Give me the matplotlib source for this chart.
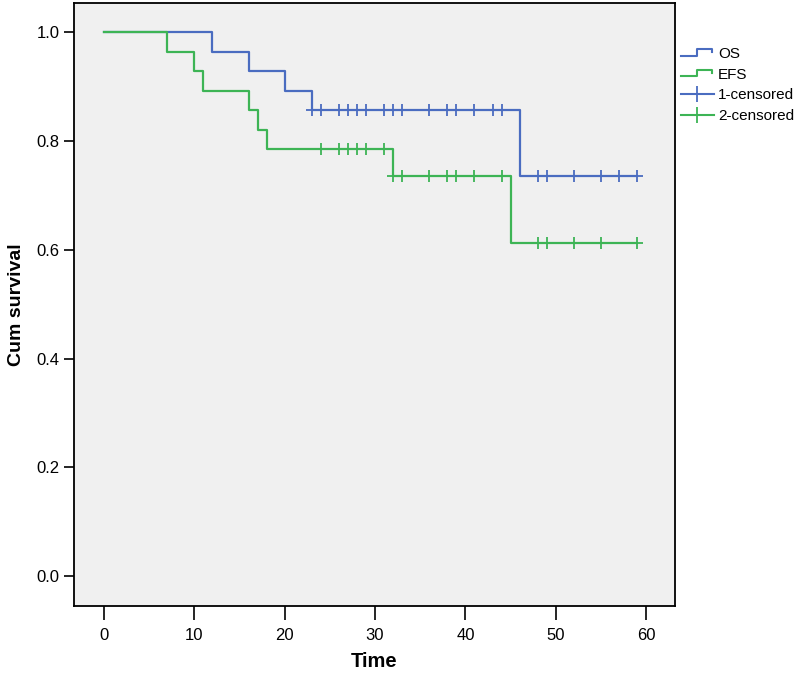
import matplotlib.pyplot as plt
from matplotlib.lines import Line2D
from matplotlib.legend_handler import HandlerBase

plt.rcParams['font.family'] = ['Liberation Sans', 'DejaVu Sans']

# Kaplan-Meier step data
os_times = [0, 12, 16, 20, 23, 46, 59]
os_surv = [1.0, 0.964, 0.929, 0.893, 0.857, 0.735, 0.735]
os_cens_t = [23, 24, 26, 27, 28, 29, 31, 32, 33, 36, 38, 39, 41, 43, 44,
             48, 49, 52, 55, 57, 59]
os_cens_s = [0.857] * 15 + [0.735] * 6

efs_times = [0, 7, 10, 11, 16, 17, 18, 32, 45, 59]
efs_surv = [1.0, 0.964, 0.929, 0.893, 0.857, 0.821, 0.786, 0.735, 0.612, 0.612]
efs_cens_t = [24, 26, 27, 28, 29, 31, 32, 33, 36, 38, 39, 41, 44,
              48, 49, 52, 55, 59]
efs_cens_s = [0.786] * 6 + [0.735] * 7 + [0.612] * 5

labels = ['OS', 'EFS', '1-censored', '2-censored']
blue = '#4a6cc0'
green = '#3db455'


class StepHandler(HandlerBase):
    # little step glyph like in the SPSS legend
    def create_artists(self, legend, orig, xd, yd, w, h, fs, trans):
        xs = [xd, xd + w * 0.5, xd + w * 0.5, xd + w * 0.95, xd + w * 0.95]
        ys = [yd + h * 0.2, yd + h * 0.2, yd + h * 0.85, yd + h * 0.85, yd + h * 0.55]
        ln = Line2D(xs, ys, color=orig.get_color(), lw=1.5)
        ln.set_transform(trans)
        return [ln]


fig = plt.figure(figsize=(8, 6.77), dpi=100)
ax = fig.add_axes([0.0925, 0.1049, 0.7513, 0.8907])
ax.set_facecolor('#f0f0f0')

l_os, = ax.step(os_times, os_surv, where='post', color=blue, lw=1.6)
l_efs, = ax.step(efs_times, efs_surv, where='post', color=green, lw=1.6)
ax.plot(os_cens_t, os_cens_s, '+', color=blue, ms=8, mew=1.3)
ax.plot(efs_cens_t, efs_cens_s, '+', color=green, ms=8, mew=1.3)

ax.set_xlim(-3.32, 63.2)
ax.set_ylim(-0.055, 1.054)
ax.set_xticks(range(0, 61, 10))
ax.set_yticks([0.0, 0.2, 0.4, 0.6, 0.8, 1.0])
ax.set_yticklabels(['0.0', '0.2', '0.4', '0.6', '0.8', '1.0'])
ax.tick_params(axis='both', direction='out', length=7, width=1.2, labelsize=12)
ax.tick_params(axis='x', length=10, pad=6)
for s in ax.spines.values():
    s.set_linewidth(1.3)

ax.set_xlabel('Time', fontsize=14.5, fontweight='bold', labelpad=6)
ax.set_ylabel('Cum survival', fontsize=14, fontweight='bold', labelpad=8)

# legend proxies for censored marks: line with a cross tick
p_os = Line2D([], [], color=blue, ls='-', lw=1.5, marker='+', ms=11, mew=1.3)
p_efs = Line2D([], [], color=green, ls='-', lw=1.5, marker='+', ms=11, mew=1.3)

fig.legend([l_os, l_efs, p_os, p_efs], labels,
           handler_map={l_os: StepHandler(), l_efs: StepHandler()},
           loc='upper left', bbox_to_anchor=(0.843, 0.94), frameon=False,
           fontsize=11, handlelength=2.2, handletextpad=0.25, labelspacing=0.45,
           borderaxespad=0, numpoints=1)

fig.savefig('out.png', dpi=100)
